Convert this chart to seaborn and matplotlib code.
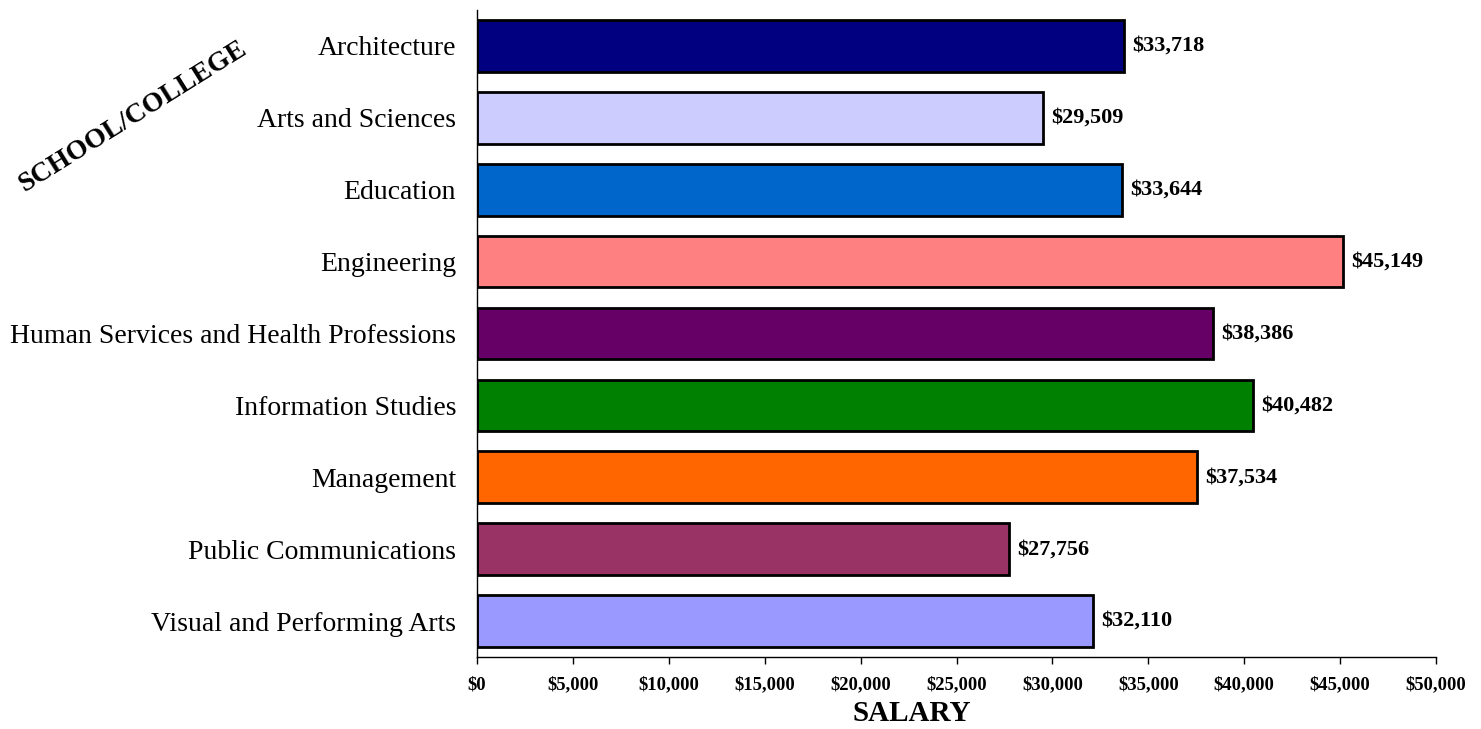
import matplotlib
matplotlib.use("Agg")
import matplotlib.pyplot as plt
import seaborn as sns
import pandas as pd
from matplotlib.ticker import FuncFormatter, MultipleLocator

categories = ["Architecture", "Arts and Sciences", "Education", "Engineering",
              "Human Services and Health Professions", "Information Studies",
              "Management", "Public Communications", "Visual and Performing Arts"]
salaries = [33718, 29509, 33644, 45149, 38386, 40482, 37534, 27756, 32110]
colors = ["#000080", "#CCCCFF", "#0066CC", "#FF8080", "#660066", "#008000",
          "#FF6600", "#993366", "#9999FF"]

sns.set_theme(style="white")
plt.rcParams['font.family'] = ['Liberation Serif', 'DejaVu Serif']
plt.rcParams['text.color'] = 'black'
plt.rcParams['xtick.color'] = 'black'
plt.rcParams['ytick.color'] = 'black'
plt.rcParams['axes.labelcolor'] = 'black'

df = pd.DataFrame({"School": categories, "Salary": salaries})

fig = plt.figure(figsize=(14.81, 7.29), dpi=100)
ax = fig.add_axes([477/1481, 1-657/729, (1436-477)/1481, (657-10)/729])

sns.barplot(data=df, x="Salary", y="School", hue="School", palette=colors,
            order=categories, hue_order=categories, orient="h", width=0.72,
            edgecolor="black", linewidth=2, legend=False, ax=ax, saturation=1)

ax.set_xlim(0, 50000)
ax.set_ylim(8.5, -0.5)
ax.xaxis.set_major_locator(MultipleLocator(5000))
ax.xaxis.set_major_formatter(FuncFormatter(lambda v, p: f"${v:,.0f}"))
ax.tick_params(axis="x", labelsize=13.4, length=5, width=1, direction="out", bottom=True, color="black", pad=9)
ax.tick_params(axis="y", labelsize=20, length=0, pad=15)
for lbl in ax.get_xticklabels():
    lbl.set_fontweight("bold")

for s in ["top", "right"]:
    ax.spines[s].set_visible(False)
for s in ["left", "bottom"]:
    ax.spines[s].set_color("black")
    ax.spines[s].set_linewidth(1)

for i, v in enumerate(salaries):
    ax.text(v + 420, i, f"${v:,}", va="center", ha="left", fontsize=16, fontweight="bold")

ax.set_xlabel("")
ax.set_ylabel("")
fig.text(912/1481, 1-727/729, "SALARY", fontsize=21, fontweight="bold",
         ha="center", va="bottom")
fig.text(133/1481, 1-117/729, "SCHOOL/COLLEGE", rotation=32, fontsize=20,
         fontweight="bold", ha="center", va="center", rotation_mode="anchor")

fig.savefig("out.png", dpi=100)
